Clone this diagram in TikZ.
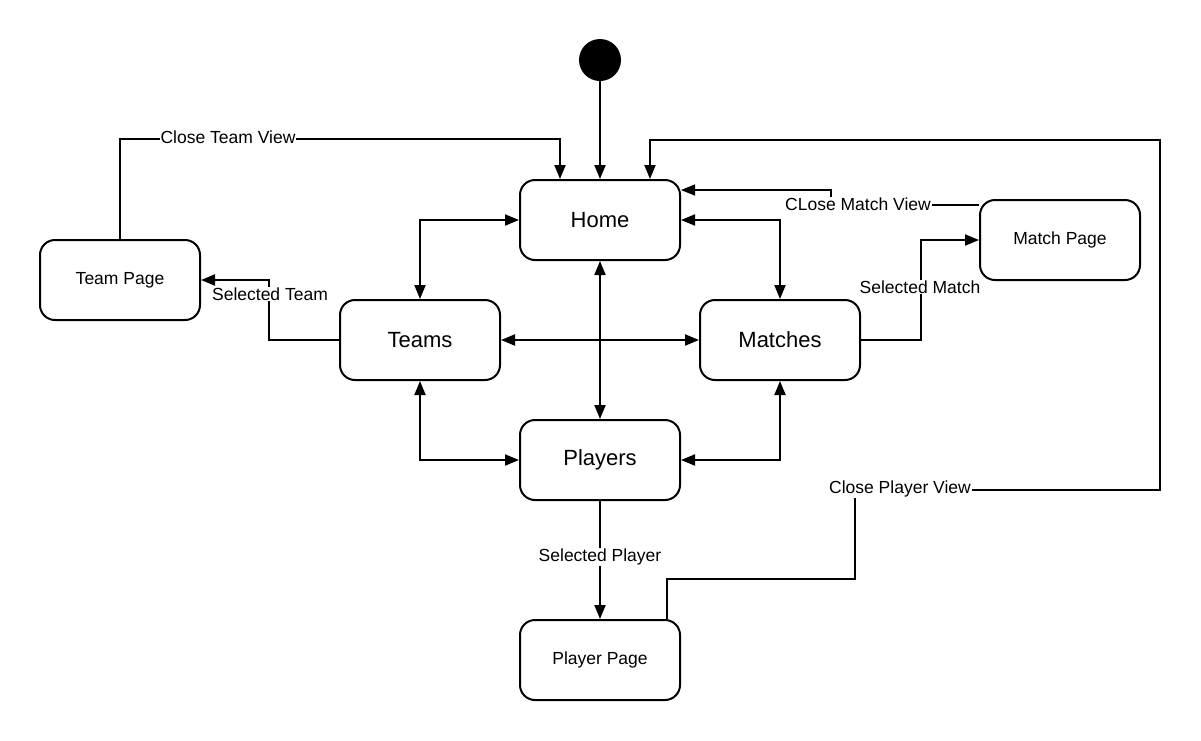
\documentclass[tikz,border=0pt]{standalone}
\usepackage{fontspec}
\setmainfont{Liberation Sans}
\usetikzlibrary{arrows.meta}
\tikzset{
  bigbox/.style={draw, line width=2pt, rounded corners=15pt, minimum width=160pt, minimum height=80pt, font=\fontsize{22}{26}\selectfont},
  smallbox/.style={draw, line width=2pt, rounded corners=15pt, minimum width=160pt, minimum height=80pt, font=\fontsize{17.5}{21}\selectfont},
  conn/.style={line width=2pt, -{Triangle[length=14pt,width=11pt]}},
  biconn/.style={line width=2pt, {Triangle[length=14pt,width=11pt]}-{Triangle[length=14pt,width=11pt]}},
  plain/.style={line width=2pt},
  thin/.style={line width=1.4pt},
  lbl/.style={fill=white, inner sep=1pt, font=\fontsize{17.5}{21}\selectfont}
}
\begin{document}
\begin{tikzpicture}[x=1pt,y=-1pt]
\useasboundingbox (0,0) rectangle (1201,740);
% nodes
\node[circle, fill=black, minimum size=42pt, inner sep=0pt] (start) at (600,60) {};
\node[bigbox] (home) at (600,220) {Home};
\node[bigbox] (teams) at (420,340) {Teams};
\node[bigbox] (matches) at (780,340) {Matches};
\node[bigbox] (players) at (600,460) {Players};
\node[smallbox] (teampage) at (120,280) {Team Page};
\node[smallbox] (matchpage) at (1060,240) {Match Page};
\node[smallbox] (playerpage) at (600,660) {Player Page};
% connectors
\draw[conn] (start) -- (home.north);
\draw[biconn] (home.west) -| (teams.north);
\draw[biconn] (home.east) -| (matches.north);
\draw[biconn] (teams.east) -- (matches.west);
\draw[biconn] (home.south) -- (players.north);
\draw[biconn] (teams.south) |- (players.west);
\draw[biconn] (matches.south) |- (players.east);
\draw[conn] (teams.west) -- ++(-70,0) |- (teampage.east);
\draw[conn] (matches.east) -- ++(60,0) |- (matchpage.west);
\draw[conn] (players.south) -- (playerpage.north);
\draw[conn] (teampage.north) -- ++(0,-100) -| ([xshift=-40pt]home.north);
% close match view
\coordinate (cmbend) at (831,205);
\draw[plain] ([yshift=35pt]matchpage.west) -- (cmbend);
\draw[thin, -{Triangle[length=14pt,width=11pt]}] (cmbend) |- ([yshift=30pt]home.east);
% close player view
\coordinate (cpbend) at (855,490);
\draw[thin] ([xshift=67pt]playerpage.north) -- ++(0,-40) -| (cpbend);
\draw[conn] (cpbend) -- ++(305,0) -- ++(0,-350) -| ([xshift=50pt]home.north);
% labels
\node[lbl] at (228,137) {Close Team View};
\node[lbl] at (270,294) {Selected Team};
\node[lbl] at (920,287) {Selected Match};
\node[lbl] at (858,204) {CLose Match View};
\node[lbl] at (600,557) {Selected Player};
\node[lbl] at (900,489) {Close Player View};
\end{tikzpicture}
\end{document}
